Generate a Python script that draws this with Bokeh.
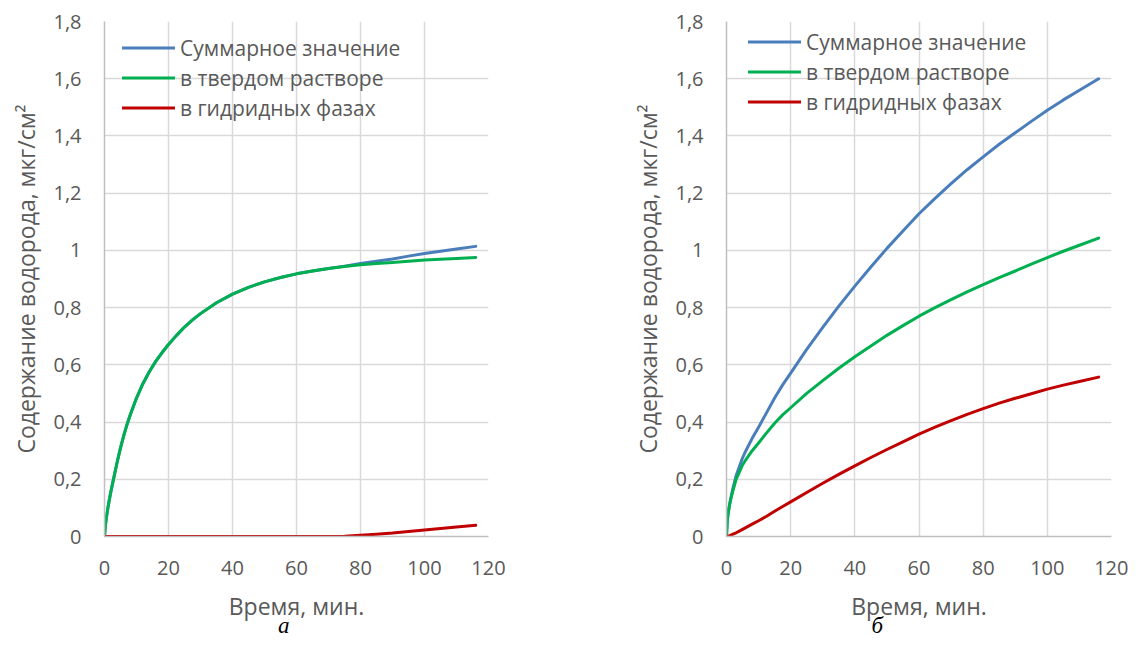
from bokeh.plotting import figure
from bokeh.layouts import row
from bokeh.models import FixedTicker, Legend, LegendItem, LinearAxis
from bokeh.embed import file_html
from bokeh.resources import INLINE

# ---------------- data ----------------
x_ticks = [0, 20, 40, 60, 80, 100, 120]
y_ticks = [0, 0.2, 0.4, 0.6, 0.8, 1.0, 1.2, 1.4, 1.6, 1.8]
y_tick_labels = ["0", "0,2", "0,4", "0,6", "0,8", "1", "1,2", "1,4", "1,6", "1,8"]

series_names = ["Суммарное значение", "в твердом растворе", "в гидридных фазах"]
x_title = "Время, мин."
y_title = "Содержание водорода, мкг/см²"
captions = ["а", "б"]

# chart a
time_a = [0, 0.25, 0.5, 1, 1.5, 2, 3, 4, 5, 6, 7, 8, 10, 12, 14, 16, 18, 20, 22.5, 25, 27.5, 30,
          35, 40, 45, 50, 55, 60, 65, 70, 75, 80, 85, 90, 95, 100, 105, 110, 116]
total_a = [0, 0.035, 0.058, 0.096, 0.128, 0.157, 0.21, 0.262, 0.31, 0.352, 0.39, 0.424, 0.484, 0.534,
           0.576, 0.612, 0.643, 0.671, 0.703, 0.732, 0.757, 0.779, 0.817, 0.847, 0.871, 0.890, 0.905,
           0.918, 0.928, 0.937, 0.945, 0.954, 0.962, 0.970, 0.980, 0.989, 0.997, 1.005, 1.014]
solid_a = [0, 0.035, 0.058, 0.096, 0.128, 0.157, 0.21, 0.262, 0.31, 0.352, 0.39, 0.424, 0.484, 0.534,
           0.576, 0.612, 0.643, 0.671, 0.703, 0.732, 0.757, 0.779, 0.817, 0.847, 0.871, 0.890, 0.905,
           0.918, 0.928, 0.937, 0.944, 0.950, 0.954, 0.958, 0.962, 0.966, 0.969, 0.972, 0.975]
hydride_a = [0, 0, 0, 0, 0, 0, 0, 0, 0, 0, 0, 0, 0, 0,
             0, 0, 0, 0, 0, 0, 0, 0, 0, 0, 0, 0, 0,
             0, 0, 0, 0.0008, 0.004, 0.008, 0.012, 0.0175, 0.023, 0.028, 0.033, 0.039]

# chart b
time_b = [0, 0.25, 0.5, 1, 1.5, 2, 3, 4, 5, 6, 8, 10, 12.5, 15, 17.5, 20, 25, 30, 35, 40, 45, 50,
          55, 60, 65, 70, 75, 80, 85, 90, 95, 100, 105, 110, 116]
total_b = [0, 0.056, 0.081, 0.115, 0.143, 0.168, 0.213, 0.244, 0.275, 0.299, 0.343, 0.382, 0.433,
           0.484, 0.530, 0.571, 0.654, 0.731, 0.805, 0.875, 0.942, 1.007, 1.068, 1.128, 1.182,
           1.233, 1.282, 1.327, 1.371, 1.411, 1.451, 1.490, 1.526, 1.560, 1.600]
solid_b = [0, 0.055, 0.08, 0.112, 0.138, 0.16, 0.20, 0.225, 0.25, 0.268, 0.30, 0.327, 0.362,
           0.396, 0.425, 0.45, 0.50, 0.545, 0.588, 0.628, 0.666, 0.703, 0.737, 0.770, 0.800,
           0.828, 0.855, 0.880, 0.905, 0.928, 0.952, 0.975, 0.997, 1.018, 1.043]
hydride_b = [0, 0.0005, 0.0012, 0.003, 0.0053, 0.008, 0.013, 0.019, 0.025, 0.031, 0.043, 0.055,
             0.071, 0.088, 0.105, 0.121, 0.154, 0.186, 0.217, 0.247, 0.276, 0.304, 0.331, 0.358,
             0.382, 0.405, 0.427, 0.447, 0.466, 0.483, 0.499, 0.515, 0.529, 0.542, 0.557]

colors = ["#4A7EBB", "#00B050", "#C00000"]

FONT = "Open Sans"
TXT = "#595959"
GRID = "#D9D9D9"


def make_chart(t, series, caption, caption_at, width, borders, legend_xy):
    left, right, top, bottom = borders
    p = figure(width=width, height=640,
               x_range=(0, 120), y_range=(0, 1.8),
               output_backend="svg", toolbar_location=None,
               min_border_left=left, min_border_right=right,
               min_border_top=top, min_border_bottom=bottom)
    p.outline_line_color = None
    p.background_fill_color = "white"
    p.border_fill_color = "white"

    p.xaxis.ticker = FixedTicker(ticks=x_ticks)
    p.yaxis.ticker = FixedTicker(ticks=y_ticks)
    p.yaxis.major_label_overrides = dict(zip(y_ticks, y_tick_labels))

    for ax in (p.xaxis, p.yaxis):
        ax.major_tick_line_color = None
        ax.minor_tick_line_color = None
        ax.major_tick_in = 0
        ax.major_tick_out = 0
        ax.axis_line_color = "#BFBFBF"
        ax.axis_line_width = 1.5
        ax.major_label_text_font = FONT
        ax.major_label_text_font_size = "20px"
        ax.major_label_text_color = TXT
        ax.axis_label_text_font = FONT
        ax.axis_label_text_font_size = "23px"
        ax.axis_label_text_font_style = "normal"
        ax.axis_label_text_color = TXT
    p.xaxis.axis_label = x_title
    p.yaxis.axis_label = y_title
    p.xaxis.major_label_standoff = 24
    p.yaxis.major_label_standoff = 23
    p.xaxis.axis_label_standoff = 12
    p.yaxis.axis_label_standoff = 8

    p.xgrid.ticker = FixedTicker(ticks=x_ticks)
    p.ygrid.ticker = FixedTicker(ticks=y_ticks)
    for g in (p.xgrid, p.ygrid):
        g.grid_line_color = GRID
        g.grid_line_width = 1.5

    items = []
    for name, ys, c in zip(series_names, series, colors):
        r = p.line(t, ys, line_color=c, line_width=3, line_join="round", line_cap="round")
        items.append(LegendItem(label=name, renderers=[r]))

    legend = Legend(items=items, location=legend_xy, padding=0, margin=0,
                    border_line_alpha=0, background_fill_alpha=0,
                    glyph_width=53, glyph_height=29, label_height=29,
                    label_standoff=5, spacing=1,
                    label_text_font=FONT, label_text_font_size="21px",
                    label_text_color=TXT)
    p.add_layout(legend, "center")

    # sub-figure caption ("а" / "б") below the axis title, drawn as a bare axis tick label
    cap_axis = LinearAxis(ticker=FixedTicker(ticks=[caption_at]),
                          major_label_overrides={caption_at: caption},
                          axis_line_color=None, major_tick_line_color=None,
                          minor_tick_line_color=None, major_tick_in=0, major_tick_out=0,
                          major_label_standoff=-12,
                          major_label_text_font="Liberation Serif",
                          major_label_text_font_style="italic",
                          major_label_text_font_size="23px",
                          major_label_text_color="black")
    p.add_layout(cap_axis, "below")
    return p


# left chart: frame 104..488, right chart: frame 726..1111 (page pixels)
p1 = make_chart(time_a, [total_a, solid_a, hydride_a], captions[0], 56,
                width=580, borders=(104, 92, 21, 103), legend_xy=(18, 414))
p2 = make_chart(time_b, [total_b, solid_b, hydride_b], captions[1], 47,
                width=548, borders=(146, 17, 21, 103), legend_xy=(22, 420))

layout = row(p1, p2)
open("out.html", "w").write(file_html(layout, INLINE))
